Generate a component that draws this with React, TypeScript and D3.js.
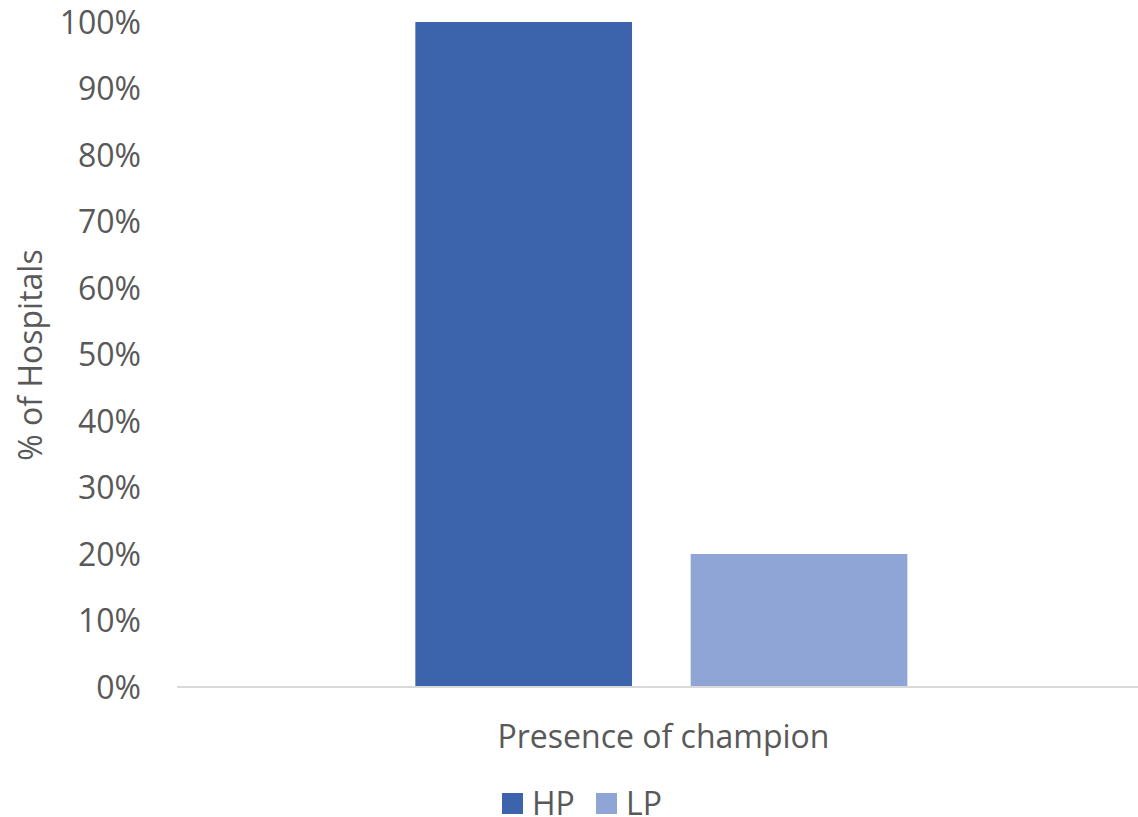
import React from "react";
import * as d3 from "d3";

const categories = ["Presence of champion"];
const seriesNames = ["HP", "LP"];
const hpValues = [1.0];
const lpValues = [0.2];
const yTicks = [0, 0.1, 0.2, 0.3, 0.4, 0.5, 0.6, 0.7, 0.8, 0.9, 1.0];
const colors = ["#3C64AD", "#8FA5D5"];

export default function App() {
  const W = 1138, H = 817;
  const left = 177, right = 1138, top = 22, bottom = 687;
  const font = "'Open Sans', sans-serif";
  const fs = 32;
  const y = d3.scaleLinear().domain([0, 1]).range([bottom, top]);
  const x0 = d3.scaleBand().domain(categories).range([left, right]);
  const x1 = d3.scaleBand().domain(seriesNames).range([x0.bandwidth() * 0.248, x0.bandwidth() * 0.76]).paddingInner(0.213);
  const series = [hpValues, lpValues];
  return (
    <svg width={W} height={H} style={{ position: "absolute", left: 0, top: 0 }}>
      <rect width={W} height={H} fill="#fff" />
      {yTicks.map((t) => (
        <text key={t} x={141} y={y(t)} dy="0.36em" textAnchor="end" fontFamily={font} fontSize={fs} fill="#595959">
          {d3.format(".0%")(t)}
        </text>
      ))}
      {categories.map((c, ci) =>
        seriesNames.map((s, si) => (
          <rect key={c + s} x={(x0(c) ?? 0) + (x1(s) ?? 0)} y={y(series[si][ci])} width={x1.bandwidth()} height={bottom - y(series[si][ci])} fill={colors[si]} />
        ))
      )}
      <line x1={left} x2={right} y1={bottom} y2={bottom} stroke="#D9D9D9" strokeWidth={2} />
      {categories.map((c) => (
        <text key={c} x={(x0(c) ?? 0) + x0.bandwidth() / 2 + 6} y={736} dy="0.36em" textAnchor="middle" fontFamily={font} fontSize={fs} fill="#595959">
          {c}
        </text>
      ))}
      <text transform={`translate(30,355) rotate(-90)`} textAnchor="middle" dy="0.36em" fontFamily={font} fontSize={fs} fill="#595959">
        % of Hospitals
      </text>
      {seriesNames.map((s, i) => (
        <g key={s} transform={`translate(${502 + i * 94},793)`}>
          <rect width={21} height={21} fill={colors[i]} />
          <text x={30} y={10} dy="0.36em" fontFamily={font} fontSize={fs} fill="#595959">{s}</text>
        </g>
      ))}
    </svg>
  );
}
